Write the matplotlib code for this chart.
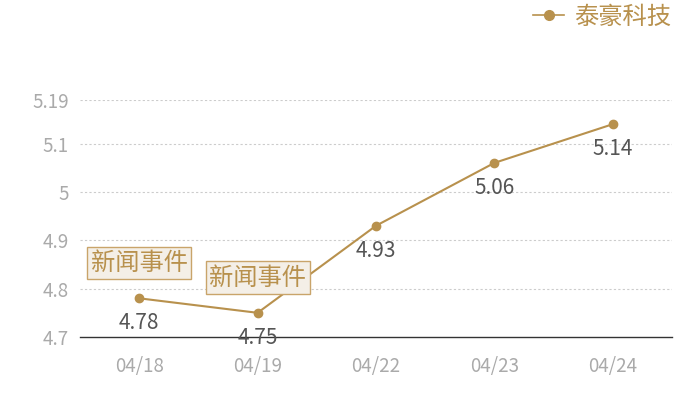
import matplotlib
matplotlib.use("Agg")
import matplotlib.pyplot as plt
from matplotlib.lines import Line2D

plt.rcParams['font.family'] = ['Noto Sans CJK SC', 'DejaVu Sans']

dates = ["04/18", "04/19", "04/22", "04/23", "04/24"]
values = [4.78, 4.75, 4.93, 5.06, 5.14]
series_name = "泰豪科技"
yticks = [4.7, 4.8, 4.9, 5.0, 5.1, 5.19]
ytick_labels = ["4.7", "4.8", "4.9", "5", "5.1", "5.19"]
event_idx = [0, 1]
event_text = "新闻事件"

gold = "#b8914d"
fig = plt.figure(figsize=(7, 4), dpi=100)
ax = fig.add_axes([80/700, 63/400, 592/700, 237/400])
x = list(range(len(dates)))
ax.plot(x, values, color=gold, lw=1.5, marker="o", ms=6, zorder=3)
ax.set_xlim(-0.5, len(dates) - 0.5)
ax.set_ylim(4.7, 5.19)
ax.set_yticks(yticks)
ax.set_yticklabels(ytick_labels)
ax.set_xticks(x)
ax.set_xticklabels(dates)
ax.tick_params(axis="both", length=0, colors="#aaaaaa", labelsize=13.5)
ax.tick_params(axis="y", pad=8)
ax.tick_params(axis="x", pad=14)
for s in ["top", "right", "left"]:
    ax.spines[s].set_visible(False)
ax.spines["bottom"].set_color("#333333")
ax.spines["bottom"].set_linewidth(1)
for t in yticks[1:]:
    ax.axhline(t, color="#cccccc", lw=0.8, ls=(0, (2, 2)), zorder=1)

for xi, v in zip(x, values):
    ax.annotate(f"{v:g}", (xi, v), xytext=(0, -10), textcoords="offset points",
                ha="center", va="top", fontsize=15, color="#555555")

for i in event_idx:
    ax.annotate(event_text, (x[i], values[i]), xytext=(0, 16), textcoords="offset points",
                ha="center", va="bottom", fontsize=17.5, color=gold,
                bbox=dict(boxstyle="square,pad=0.14", fc="#f4efe7", ec="#c9a46a", lw=1),
                zorder=4)

handle = Line2D([0], [0], color=gold, lw=1.2, marker="o", ms=7)
leg = fig.legend([handle], [series_name], loc="upper right", bbox_to_anchor=(0.99, 1.045),
                 frameon=False, fontsize=17.5, handlelength=1.3, handletextpad=0.4,
                 labelcolor=gold)

fig.savefig("out.png", dpi=100)
